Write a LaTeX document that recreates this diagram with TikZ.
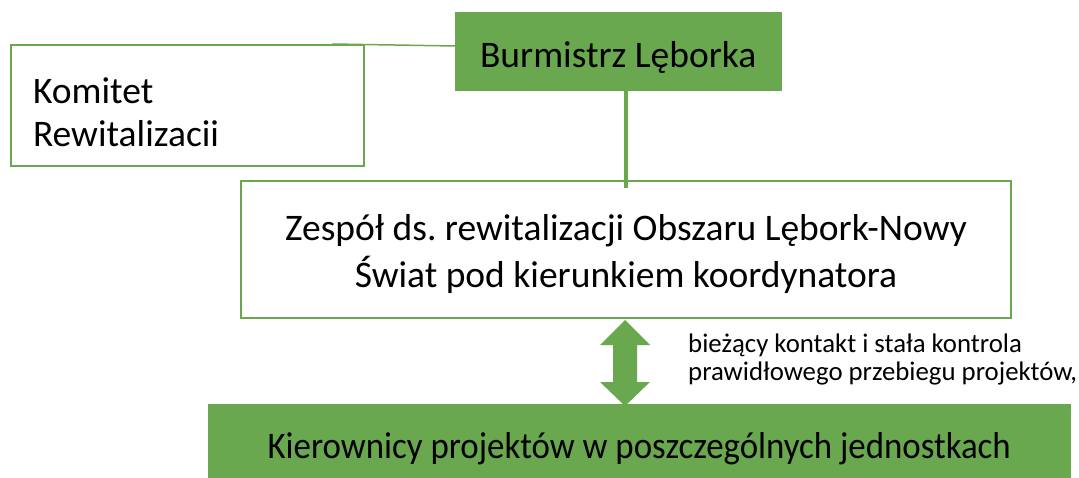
\documentclass[tikz,border=0pt]{standalone}
\usepackage{fontspec}
\setmainfont{Carlito}
\usetikzlibrary{positioning}
\definecolor{zielony}{HTML}{6AA84F}
\frenchspacing

\begin{document}
\begin{tikzpicture}[x=1pt,y=-1pt,
        pelny/.style={fill=zielony, draw=zielony, inner sep=0pt, anchor=north west, font=\fontsize{37.5}{45}\selectfont},
        pusty/.style={draw=zielony, line width=2pt, fill=white, inner sep=0pt, anchor=north west, font=\fontsize{37.5}{47}\selectfont},
        linia/.style={draw=zielony, line width=1.5pt}]
        \useasboundingbox (0,0) rectangle (1079,478);
        \node[pusty, minimum width=353, minimum height=121, text width=309, inner xsep=22, align=left, font=\fontsize{37.5}{43}\selectfont] (komitet) at (10,44) {\rule{0pt}{40pt}Komitet\\Rewitalizacii};
        \node[pelny, minimum width=326, minimum height=78] (burmistrz) at (455,12) {\rule{0pt}{38pt}Burmistrz Lęborka};
        \node[pusty, minimum width=770, minimum height=137, align=center] (zespol) at (240,180) {\rule{0pt}{36pt}Zespół ds. rewitalizacji Obszaru Lębork-Nowy\\Świat pod kierunkiem koordynatora};
        \node[pelny, minimum width=862, minimum height=80] (kierownicy) at (208,404) {\scalebox{0.93}[1]{\rule{0pt}{36pt}Kierownicy projektów w poszczególnych jednostkach}};
        \node[anchor=north west, align=left, inner sep=0pt, font=\fontsize{26.8}{27.5}\selectfont] (opis) at (688,334) {bieżący kontakt i stała kontrola\\prawidłowego przebiegu projektów,};
        % polaczenia
        \draw[linia] (burmistrz.west |- 0,46) -- ([xshift=-33]komitet.north east);
        \draw[linia, line width=3.5pt] (zespol.north |- burmistrz.south) -- ([yshift=-8]zespol.north);
        \fill[zielony] (625,320) -- (650,345) -- (637,345) -- (637,382) -- (650,382) -- (625,406)
            -- (600,382) -- (613,382) -- (613,345) -- (600,345) -- cycle;
\end{tikzpicture}
\end{document}
